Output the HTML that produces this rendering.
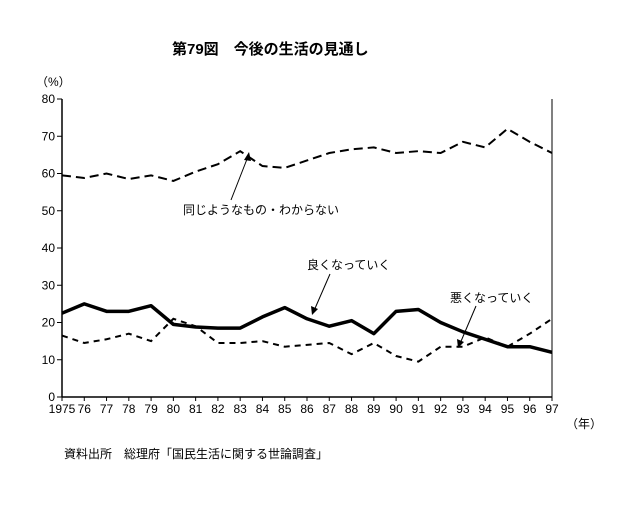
<!DOCTYPE html>
<html><head><meta charset="utf-8"><style>
body{margin:0;background:#fff;}
svg text{font-family:"Liberation Sans","Noto Sans CJK JP",sans-serif;fill:#000;}
</style></head><body>
<svg id="c" width="618" height="504" xmlns="http://www.w3.org/2000/svg">
<text x="172" y="54" font-size="15" font-weight="bold">第79図　今後の生活の見通し</text>
<text x="36" y="86" font-size="12">（%）</text>
<text x="566" y="428" font-size="12">（年）</text>
<text x="64" y="458" font-size="12">資料出所　総理府「国民生活に関する世論調査」</text>
<g id="axes"></g><g id="series"></g>
<text x="183" y="214" font-size="12">同じようなもの・わからない</text>
<line x1="231" y1="200" x2="249" y2="154" stroke="#000"/>
<polygon points="249,152 244,160 251,161" fill="#000"/>
<text x="307" y="269" font-size="12">良くなっていく</text>
<line x1="330" y1="274" x2="313" y2="313" stroke="#000"/>
<polygon points="312,315 311,306 318,309" fill="#000"/>
<text x="450" y="302" font-size="12">悪くなっていく</text>
<line x1="476" y1="306" x2="459" y2="346" stroke="#000"/>
<polygon points="458,348 457,339 464,342" fill="#000"/>
</svg>
<script>
const years=["1975","76","77","78","79","80","81","82","83","84","85","86","87","88","89","90","91","92","93","94","95","96","97"];
const sameVals=[59.5,58.8,60,58.5,59.5,58,60.5,62.5,66,62,61.5,63.5,65.5,66.5,67,65.5,66,65.5,68.5,67,72,68.5,65.5];
const goodVals=[22.5,25,23,23,24.5,19.5,18.8,18.5,18.5,21.5,24,21,19,20.5,17,23,23.5,20,17.5,15.5,13.5,13.5,12];
const badVals=[16.5,14.5,15.5,17,15,21,19,14.5,14.5,15,13.5,14,14.5,11.5,14.5,11,9.5,13.5,13.5,16,13.5,17,21];
const yTicks=[0,10,20,30,40,50,60,70,80];
const NS="http://www.w3.org/2000/svg";
const x0=62,x1=552,y0=397,y1=99;
const xs=i=>x0+(x1-x0)*i/(years.length-1);
const ys=v=>y0-(y0-y1)*v/80;
const ax=document.getElementById('axes'),se=document.getElementById('series');
function mk(tag,attrs,parent){const e=document.createElementNS(NS,tag);for(const k in attrs)e.setAttribute(k,attrs[k]);parent.appendChild(e);return e;}
let l=mk('line',{x1:x0,y1:y1,x2:x0,y2:y0,stroke:'#000','stroke-width':1.5},ax);


l=mk('line',{x1:x0,y1:y0,x2:x1,y2:y0,stroke:'#000','stroke-width':1.5},ax);


l=mk('line',{x1:x1,y1:y1,x2:x1,y2:y0,stroke:'#000','stroke-width':1},ax);


yTicks.forEach(v=>{
 const t=mk('line',{x1:x0-5,y1:ys(v),x2:x0,y2:ys(v),stroke:'#000'},ax);
 
 
 const tx=mk('text',{x:x0-7,y:ys(v)+4,'font-size':12,'text-anchor':'end'},ax);tx.textContent=v;
 
 
});
years.forEach((y,i)=>{
 const t=mk('line',{x1:xs(i),y1:y0,x2:xs(i),y2:y0+4,stroke:'#000'},ax);
 
 
 const tx=mk('text',{x:xs(i),y:y0+16,'font-size':12,'text-anchor':'middle'},ax);tx.textContent=y;
 
 
});
function line(vals,name,attrs){
 const p=mk('polyline',Object.assign({points:vals.map((v,i)=>xs(i)+','+ys(v)).join(' '),fill:'none',stroke:'#000'},attrs),se);
 
 
}
line(sameVals,'line-same',{'stroke-width':2,'stroke-dasharray':'9,5'});
line(badVals,'line-bad',{'stroke-width':2,'stroke-dasharray':'6,5'});
line(goodVals,'line-good',{'stroke-width':3.5,'stroke-linejoin':'round'});
</script>
</body></html>
